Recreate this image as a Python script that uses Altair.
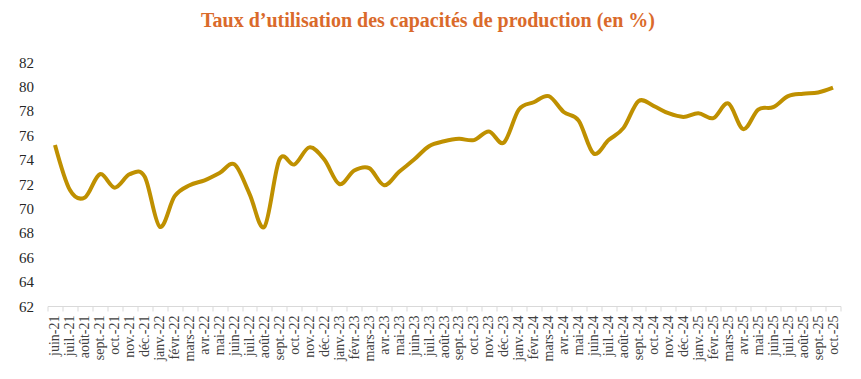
import altair as alt
import pandas as pd

months = ["juin-21", "juil.-21", "août-21", "sept.-21", "oct.-21", "nov.-21", "déc.-21",
          "janv.-22", "févr.-22", "mars-22", "avr.-22", "mai-22", "juin-22", "juil.-22",
          "août-22", "sept.-22", "oct.-22", "nov.-22", "déc.-22",
          "janv.-23", "févr.-23", "mars-23", "avr.-23", "mai-23", "juin-23", "juil.-23",
          "août-23", "sept.-23", "oct.-23", "nov.-23", "déc.-23",
          "janv.-24", "févr.-24", "mars-24", "avr.-24", "mai-24", "juin-24", "juil.-24",
          "août-24", "sept.-24", "oct.-24", "nov.-24", "déc.-24",
          "janv.-25", "févr.-25", "mars-25", "avr.-25", "mai-25", "juin-25", "juil.-25",
          "août-25", "sept.-25", "oct.-25"]

values = [75.2, 71.5, 70.9, 72.8, 71.7, 72.8, 72.6,
          68.5, 71.0, 71.9, 72.3, 72.9, 73.6, 71.2,
          68.5, 74.0, 73.6, 75.0, 74.0,
          72.0, 73.1, 73.3, 71.9, 73.0, 74.0, 75.1,
          75.5, 75.7, 75.6, 76.3, 75.4,
          78.1, 78.7, 79.2, 77.9, 77.2, 74.5, 75.6,
          76.6, 78.8, 78.4, 77.8, 77.5,
          77.8, 77.4, 78.6, 76.5, 78.1, 78.3, 79.2,
          79.4, 79.5, 79.9]

y_ticks = [62, 64, 66, 68, 70, 72, 74, 76, 78, 80, 82]

SERIF = "'Liberation Serif', 'DejaVu Serif', serif"

df = pd.DataFrame({"mois": months, "taux": values})

chart = alt.Chart(df).mark_line(
    color="#BF9000", strokeWidth=4, interpolate="cardinal"
).encode(
    x=alt.X("mois:N", sort=months, title=None,
            scale=alt.Scale(paddingInner=0, paddingOuter=0),
            axis=alt.Axis(labelAngle=-90, tickBand="extent", domainColor="#D9D9D9",
                          tickColor="#D9D9D9", tickSize=5, labelFont=SERIF,
                          labelFontSize=14, labelColor="#404040", labelPadding=4, grid=False)),
    y=alt.Y("taux:Q", title=None,
            scale=alt.Scale(domain=[62, 82], nice=False, zero=False),
            axis=alt.Axis(values=y_ticks, domain=False, ticks=False, grid=False,
                          labelFont=SERIF, labelFontSize=15,
                          labelColor="#262626", labelPadding=14)),
).properties(
    width=793, height=244,
    autosize=alt.AutoSizeParams(type="none"),
    padding={"left": 39.5, "top": 54, "right": 12, "bottom": 70},
    title=alt.TitleParams(
        "Taux d’utilisation des capacités de production (en %)",
        font=SERIF, fontSize=20, fontWeight="bold", color="#DA6A2B",
        anchor="middle", dx=-16, offset=24, baseline="top"),
).configure_view(stroke=None)

chart.save("out.html", embed_options={"renderer": "svg", "actions": False})
